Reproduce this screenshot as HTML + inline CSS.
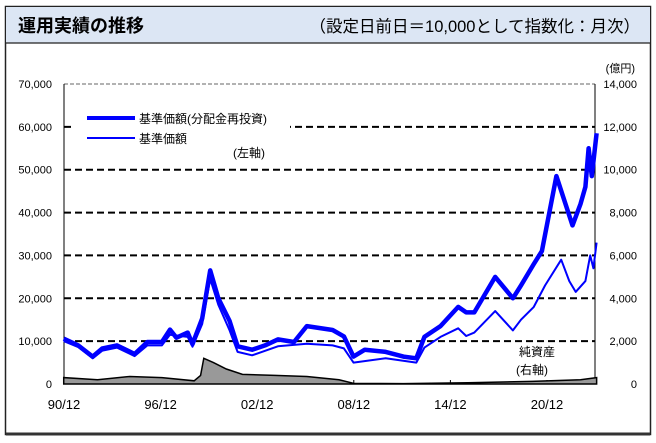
<!DOCTYPE html>
<html><head><meta charset="utf-8"><style>
body{margin:0;background:#fff;font-family:"Liberation Sans","Noto Sans CJK JP",sans-serif;}
</style></head><body>
<svg width="656" height="438" xmlns="http://www.w3.org/2000/svg" font-family="'Liberation Sans','Noto Sans CJK JP',sans-serif">
<rect x="5.5" y="6.5" width="645" height="428" fill="#fff" stroke="#222" stroke-width="1.5"/>
<rect x="6" y="7" width="644" height="36" fill="#dce6f4"/>
<line x1="6" y1="43" x2="650" y2="43" stroke="#222" stroke-width="1.2"/>
<line x1="6" y1="434" x2="650" y2="434" stroke="#333" stroke-width="3"/>
<text x="18" y="32" font-size="18" font-weight="bold">運用実績の推移</text>
<text x="640" y="32" font-size="16.5" text-anchor="end">（設定日前日＝10,000として指数化：月次）</text>
<text x="635" y="72" font-size="11" text-anchor="end">(億円)</text>
<g id="grid"></g>
<g id="axes"></g>
<g id="series"></g>
<g id="legend">
<rect x="72" y="100" width="218" height="64" fill="#fff"/>
<line x1="87" y1="118" x2="135" y2="118" stroke="#0000ff" stroke-width="4"/>
<text x="139" y="123" font-size="12">基準価額(分配金再投資)</text>
<line x1="87" y1="138" x2="135" y2="138" stroke="#0000ff" stroke-width="2"/>
<text x="139" y="143" font-size="12">基準価額</text>
<text x="233" y="157" font-size="12">(左軸)</text>
</g>
<text x="519" y="356" font-size="12">純資産</text>
<text x="516" y="374" font-size="12">(右軸)</text>
</svg>
<script>
const yearsBold=[1990.9,1991.8,1992.7,1993.3,1994.2,1995.3,1996.1,1997.0,1997.5,1997.9,1998.6,1998.9,1999.5,2000.0,2000.5,2001.2,2001.7,2002.6,2003.4,2004.2,2005.2,2006.0,2007.6,2008.3,2008.9,2009.6,2010.9,2012.0,2012.8,2013.3,2014.3,2015.4,2015.9,2016.4,2017.7,2018.8,2019.3,2020.1,2020.6,2021.5,2022.5,2023.0,2023.3,2023.5,2023.7,2024.0];
const valsBold=[10600,9000,6400,8300,9000,7000,9800,9800,12700,10800,12000,9300,15300,26500,20000,14700,8800,8000,9000,10400,9800,13500,12600,11100,6400,8000,7500,6400,6000,11000,13500,18000,16700,16700,25000,20000,23000,28000,31000,48500,37000,42000,46000,55000,48500,58500];
const yearsThin=[1990.9,1991.8,1992.7,1993.3,1994.2,1995.3,1996.1,1997.0,1997.5,1998.6,1998.9,1999.5,2000.0,2000.5,2001.2,2001.7,2002.6,2004.2,2006.0,2007.6,2008.3,2008.9,2010.9,2012.8,2013.3,2014.3,2015.4,2015.9,2016.4,2017.7,2018.8,2019.3,2020.1,2020.8,2021.8,2022.3,2022.7,2023.3,2023.6,2023.8,2024.0];
const valsThin=[10000,8600,6000,7800,8500,6500,9000,9000,11500,11000,8700,14000,24500,18500,12500,7500,6700,8800,9400,9000,8300,5000,6000,5000,8500,11000,13000,11200,12000,17000,12500,15000,18000,23000,29000,24000,21500,24000,30000,27000,33000];
const yearsNAV=[1990.9,1993.0,1995.0,1997.0,1999.0,1999.4,1999.6,2000.2,2001.0,2002.0,2004.0,2006.0,2008.0,2008.9,2012.0,2016.0,2020.0,2023.0,2024.0];
const valsNAV=[300,200,350,300,150,400,1200,1000,700,450,400,350,200,30,20,60,120,200,300];
const leftTicks=[0,10000,20000,30000,40000,50000,60000,70000];
const rightTicks=[0,2000,4000,6000,8000,10000,12000,14000];
const xLabels=["90/12","96/12","02/12","08/12","14/12","20/12"];
const xLabelYears=[1990.917,1996.917,2002.917,2008.917,2014.917,2020.917];

const X0=64,X1=595,Y0=384,Y1=84;
const xS=t=>X0+(t-1990.917)*16.1;
const yL=v=>Y0-(v/70000)*(Y0-Y1);
const yR=v=>Y0-(v/14000)*(Y0-Y1);
const NS="http://www.w3.org/2000/svg";
function mk(tag,parent,attrs){const e=document.createElementNS(NS,tag);for(const k in attrs)e.setAttribute(k,attrs[k]);document.getElementById(parent).appendChild(e);return e;}

leftTicks.forEach((v,i)=>{
  if(v>0&&v<70000){const g=mk('line','grid',{x1:X0,x2:X1,y1:yL(v),y2:yL(v),stroke:'#000','stroke-width':2,'stroke-dasharray':'7,4'});
  
  }
  const t=mk('text','axes',{x:52,y:yL(v)+4,'font-size':11,'text-anchor':'end'});t.textContent=v.toLocaleString('en-US');
  
  
});
rightTicks.forEach(v=>{
  const t=mk('text','axes',{x:637,y:yR(v)+4,'font-size':11,'text-anchor':'end'});t.textContent=v.toLocaleString('en-US');
  
  
});
const topLine=mk('line','grid',{x1:X0,x2:X1,y1:Y1,y2:Y1,stroke:'#999','stroke-width':1.5,'stroke-dasharray':'4,2'});
mk('line','axes',{x1:X0,x2:X0,y1:Y1,y2:Y0,stroke:'#000','stroke-width':1});
mk('line','axes',{x1:X1,x2:X1,y1:Y1,y2:Y0,stroke:'#000','stroke-width':1});
mk('line','axes',{x1:X0,x2:X1,y1:Y0,y2:Y0,stroke:'#000','stroke-width':1});
xLabels.forEach((l,i)=>{
  const t=mk('text','axes',{x:xS(xLabelYears[i]),y:409,'font-size':13,'text-anchor':'middle'});t.textContent=l;
  
  
  mk('line','axes',{x1:xS(xLabelYears[i]),x2:xS(xLabelYears[i]),y1:Y0,y2:Y0-4,stroke:'#000'});
});
let ap=`M${xS(yearsNAV[0])},${Y0}`;yearsNAV.forEach((t,i)=>ap+=`L${xS(t)},${yR(valsNAV[i])}`);ap+=`L${xS(yearsNAV[yearsNAV.length-1])},${Y0}Z`;
const area=mk('path','series',{d:ap,fill:'#999',stroke:'#000','stroke-width':1.5});


const pts=(ys,vs)=>ys.map((t,i)=>`${xS(t).toFixed(1)},${yL(vs[i]).toFixed(1)}`).join(' ');
const thin=mk('polyline','series',{points:pts(yearsThin,valsThin),fill:'none',stroke:'#0000ff','stroke-width':2,'stroke-linejoin':'round'});


const bold=mk('polyline','series',{points:pts(yearsBold,valsBold),fill:'none',stroke:'#0000ff','stroke-width':4.5,'stroke-linejoin':'round'});


document.querySelector('svg').appendChild(document.getElementById('legend'));
</script>
</body></html>
